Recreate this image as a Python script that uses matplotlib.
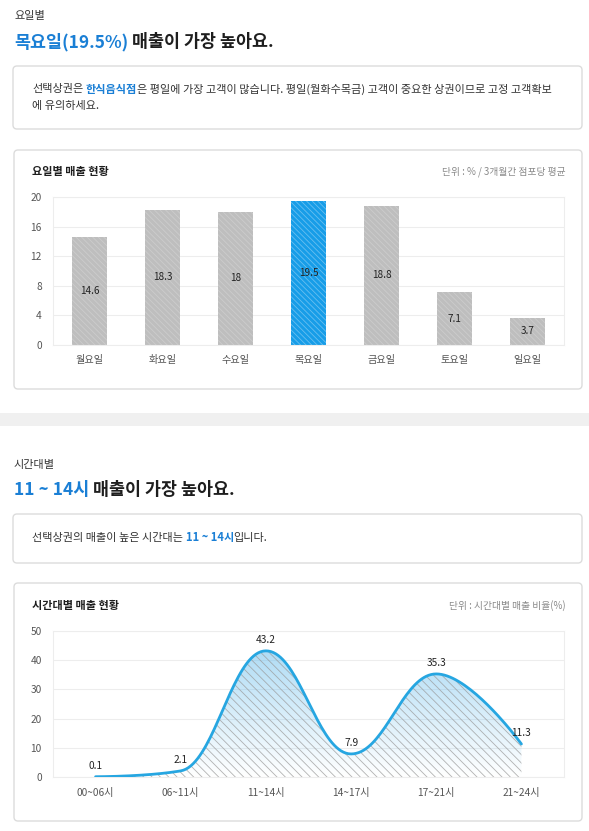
import numpy as np
import matplotlib.pyplot as plt
from matplotlib.patches import FancyBboxPatch, Rectangle, Polygon

plt.rcParams['font.family'] = ['Noto Sans CJK KR', 'DejaVu Sans']
plt.rcParams['hatch.linewidth'] = 0.6

# 요일별 데이터
days = ['월요일', '화요일', '수요일', '목요일', '금요일', '토요일', '일요일']
day_sales = [14.6, 18.3, 18.0, 19.5, 18.8, 7.1, 3.7]
day_ticks = [0, 4, 8, 12, 16, 20]

# 시간대별 데이터
hours = ['00~06시', '06~11시', '11~14시', '14~17시', '17~21시', '21~24시']
hour_sales = [0.1, 2.1, 43.2, 7.9, 35.3, 11.3]
hour_ticks = [0, 10, 20, 30, 40, 50]

W, H = 589, 831
BLUE = '#1a7fd5'
DARK = '#1e1e1e'
TEXT = '#333333'
GRAY = '#8a8a8a'
BORDER = '#dcdcdc'

fig = plt.figure(figsize=(W / 100, H / 100), dpi=100)
bg = fig.add_axes([0, 0, 1, 1])
bg.set_xlim(0, W)
bg.set_ylim(H, 0)
bg.axis('off')
renderer = fig.canvas.get_renderer()


def text_width(s, size, weight):
    t = bg.text(0, 0, s, fontsize=size, fontweight=weight)
    w = t.get_window_extent(renderer).width
    t.remove()
    return w


def runs(x, y, parts, size):
    # parts: (문자열, 색, 굵기) 차례로 이어 쓰기
    for s, c, w in parts:
        sw = text_width('가 가', size, w) - text_width('가가', size, w)
        lead = len(s) - len(s.lstrip(' '))
        trail = len(s) - len(s.rstrip(' '))
        x += lead * sw
        t = bg.text(x, y, s.strip(' '), color=c, fontsize=size, fontweight=w,
                    va='center', ha='left')
        x = t.get_window_extent(renderer).x1 + trail * sw


def box(x0, y0, x1, y1):
    bg.add_patch(FancyBboxPatch((x0, y0), x1 - x0, y1 - y0,
                                boxstyle='round,pad=0,rounding_size=4',
                                fc='white', ec=BORDER, lw=1))


# ---------- 요일별 ----------
bg.text(14, 16, '요일별', fontsize=8, color=TEXT, va='center')
runs(14, 42, [('목요일(19.5%)', BLUE, 'bold'), (' 매출이 가장 높아요.', DARK, 'bold')], 12.5)

box(13, 66, 582, 129)
runs(32, 89, [('선택상권은 ', TEXT, 'normal'), ('한식음식점', BLUE, 'bold'),
              ('은 평일에 가장 고객이 많습니다. 평일(월화수목금) 고객이 중요한 상권이므로 고정 고객확보',
               TEXT, 'normal')], 8)
bg.text(32, 106, '에 유의하세요.', fontsize=8, color=TEXT, va='center')

box(14, 150, 582, 389)
bg.text(32, 172, '요일별 매출 현황', fontsize=8, fontweight='bold', color=DARK, va='center')
bg.text(566, 172, '단위 : % / 3개월간 점포당 평균', fontsize=7, color=GRAY,
        va='center', ha='right')

ax1 = fig.add_axes([53 / W, 1 - 345 / H, 511 / W, 148 / H])
x = np.arange(len(days))
top = int(np.argmax(day_sales))
bar_cols = ['#bebebe'] * len(days)
bar_cols[top] = '#179de8'
hatch_cols = [(1, 1, 1, 0.22)] * len(days)
hatch_cols[top] = (1, 1, 1, 0.35)
ax1.bar(x, day_sales, width=0.48, color=bar_cols, lw=0, zorder=2)
ax1.bar(x, day_sales, width=0.48, color='none', edgecolor=hatch_cols,
        hatch='\\' * 6, lw=0, zorder=3)
for xi, v in zip(x, day_sales):
    ax1.text(xi, v / 2, f'{v:g}', ha='center', va='center', fontsize=7.2,
             color='#222222', zorder=4)
ax1.set_xlim(-0.5, len(days) - 0.5)
ax1.set_ylim(0, 20)
ax1.set_yticks(day_ticks)
ax1.set_xticks(x)
ax1.set_xticklabels(days)
ax1.tick_params(length=0, labelsize=7.3, colors='#555555')
ax1.tick_params(axis='y', pad=8)
ax1.tick_params(axis='x', pad=7)
ax1.grid(axis='y', color='#ededed', lw=0.8, zorder=0)
for sp in ax1.spines.values():
    sp.set_color('#ededed')
    sp.set_linewidth(0.8)

# ---------- 구분 띠 ----------
bg.add_patch(Rectangle((0, 413), W, 13, fc='#f0f0f0', ec='none'))

# ---------- 시간대별 ----------
bg.text(14, 465, '시간대별', fontsize=8, color=TEXT, va='center')
runs(14, 490, [('11 ~ 14시', BLUE, 'bold'), (' 매출이 가장 높아요.', DARK, 'bold')], 12.5)

box(13, 514, 582, 563)
runs(32, 538, [('선택상권의 매출이 높은 시간대는 ', TEXT, 'normal'),
               ('11 ~ 14시', BLUE, 'bold'), ('입니다.', TEXT, 'normal')], 8)

box(14, 583, 582, 821)
bg.text(32, 606, '시간대별 매출 현황', fontsize=8, fontweight='bold', color=DARK, va='center')
bg.text(566, 606, '단위 : 시간대별 매출 비율(%)', fontsize=7, color=GRAY,
        va='center', ha='right')

ax2 = fig.add_axes([53 / W, 1 - 777 / H, 511 / W, 146 / H])


def spline(xs, ys, smooth=1.5, n=40):
    # 하이차트 방식 스플라인 (곡선 그리기용)
    xs = np.asarray(xs, float)
    ys = np.asarray(ys, float)
    k = len(xs)
    lc = [(xs[i], ys[i]) for i in range(k)]
    rc = [(xs[i], ys[i]) for i in range(k)]
    for i in range(1, k - 1):
        d = smooth + 1
        lx = (smooth * xs[i] + xs[i - 1]) / d
        ly = (smooth * ys[i] + ys[i - 1]) / d
        rx = (smooth * xs[i] + xs[i + 1]) / d
        ry = (smooth * ys[i] + ys[i + 1]) / d
        corr = (ry - ly) * (rx - xs[i]) / (rx - lx) + ys[i] - ry
        ly += corr
        ry += corr
        if ly > ys[i - 1] and ly > ys[i]:
            ly = max(ys[i - 1], ys[i]); ry = 2 * ys[i] - ly
        elif ly < ys[i - 1] and ly < ys[i]:
            ly = min(ys[i - 1], ys[i]); ry = 2 * ys[i] - ly
        if ry > ys[i + 1] and ry > ys[i]:
            ry = max(ys[i + 1], ys[i]); ly = 2 * ys[i] - ry
        elif ry < ys[i + 1] and ry < ys[i]:
            ry = min(ys[i + 1], ys[i]); ly = 2 * ys[i] - ry
        lc[i] = (lx, ly)
        rc[i] = (rx, ry)
    t = np.linspace(0, 1, n)[:, None]
    pts = []
    for i in range(1, k):
        p0 = np.array([xs[i - 1], ys[i - 1]])
        p1 = np.array(rc[i - 1])
        p2 = np.array(lc[i])
        p3 = np.array([xs[i], ys[i]])
        seg = ((1 - t) ** 3) * p0 + 3 * ((1 - t) ** 2) * t * p1 + 3 * (1 - t) * t ** 2 * p2 + t ** 3 * p3
        pts.append(seg if i == 1 else seg[1:])
    pts = np.vstack(pts)
    return pts[:, 0], pts[:, 1]


hx = np.arange(len(hours))
cx, cy = spline(hx, hour_sales)
poly = np.column_stack([np.r_[cx, cx[-1], cx[0]], np.r_[cy, 0, 0]])
clip = Polygon(poly, closed=True, fc='none', ec='none', transform=ax2.transData)
ax2.add_patch(clip)

grad = np.zeros((256, 1, 4))
grad[:, 0, :3] = np.array([0.45, 0.76, 0.93])
grad[:, 0, 3] = np.linspace(0.0, 0.65, 256)
im = ax2.imshow(grad, extent=[cx[0], cx[-1], 0, 50], origin='lower',
                aspect='auto', zorder=2)
im.set_clip_path(clip)

ax2.add_patch(Polygon(poly, closed=True, fc='none', ec=(0.6, 0.6, 0.6, 0.75),
                      hatch='\\' * 4, lw=0, zorder=3))
ax2.plot(cx, cy, color='#26a6e1', lw=2.0, solid_capstyle='round', zorder=4)
for xi, v in zip(hx, hour_sales):
    ax2.annotate(f'{v:g}', (xi, v), xytext=(0, 4), textcoords='offset points',
                 ha='center', va='bottom', fontsize=7.3, color='#222222', zorder=5)

ax2.set_xlim(-0.5, len(hours) - 0.5)
ax2.set_ylim(0, 50)
ax2.set_yticks(hour_ticks)
ax2.set_xticks(hx)
ax2.set_xticklabels(hours)
ax2.tick_params(length=0, labelsize=7.3, colors='#555555')
ax2.tick_params(axis='y', pad=8)
ax2.tick_params(axis='x', pad=8)
ax2.grid(axis='y', color='#ededed', lw=0.8, zorder=0)
for sp in ax2.spines.values():
    sp.set_color('#ededed')
    sp.set_linewidth(0.8)

fig.savefig('out.png', dpi=100)
